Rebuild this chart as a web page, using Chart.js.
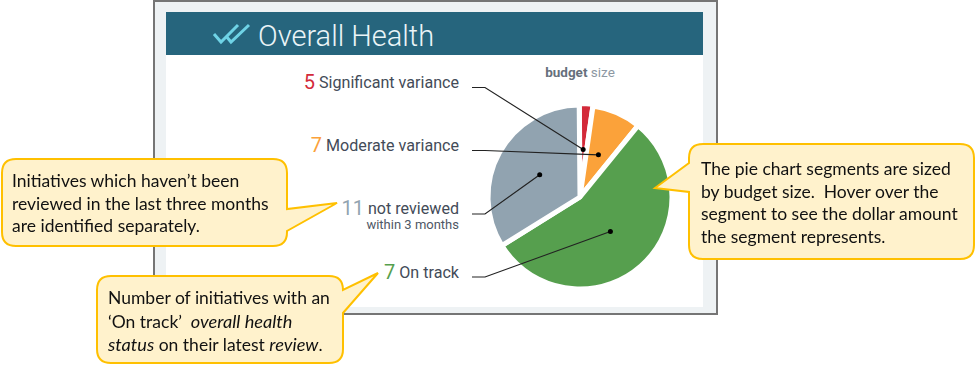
<!DOCTYPE html>
<html>
<head>
<meta charset="utf-8">
<title>Overall Health</title>
<script src="https://cdn.jsdelivr.net/npm/chart.js@4/dist/chart.umd.min.js"></script>
<style>
    html, body { margin: 0; padding: 0; background: #fff; width: 975px; height: 367px; overflow: hidden; }
    #frame { position: absolute; left: 153px; top: 0; width: 561px; height: 311px; border: 2px solid #757575; background: #eef2f4; }
    #panel { position: absolute; left: 166px; top: 55px; width: 537px; height: 252px; background: #fff; }
    #header { position: absolute; left: 166px; top: 12px; width: 537px; height: 43px; background: #26657d; }
    #title { position: absolute; left: 258px; top: 19px; font: 300 29px Roboto, sans-serif; color: #eaf4f7; white-space: nowrap; }
    #icon { position: absolute; left: 205px; top: 15px; }
    #pie-wrap { position: absolute; left: 465px; top: 80px; width: 230px; height: 234px; }
    #budget { position: absolute; left: 480px; width: 200px; top: 64px; text-align: center; font: 13.5px Roboto, sans-serif; color: #8d98a3; }
    #budget b { color: #66707c; }
    .row { position: absolute; right: 516px; height: 20px; white-space: nowrap; font: 16.1px Roboto, sans-serif; color: #434b58; line-height: 20px; }
    .row .num { font-size: 20px; margin-right: 4px; vertical-align: -1px; }
    .sub { position: absolute; right: 516px; top: 220px; font: 13px/10px Roboto, sans-serif; color: #4f5765; white-space: nowrap; }
    #bubbles { position: absolute; left: 0; top: 0; }
    .note { position: absolute; font: 17.5px/22.6px Lato, sans-serif; color: #111; white-space: nowrap; }
    .note i { font-size: 18.2px; }
</style>
</head>
<body>
<div id="frame"></div>
<div id="panel"></div>
<div id="header"></div>
<svg id="icon" width="60" height="40">
    <polyline points="9,19 16,27 33,10" fill="none" stroke="#6fd3e6" stroke-width="3"/>
    <polyline points="21,21 26,27 44,10" fill="none" stroke="#6fd3e6" stroke-width="3"/>
</svg>
<div id="title">Overall Health</div>
<div id="budget"><b>budget</b> size</div>
<div id="labels"></div>
<div class="sub">within 3 months</div>
<div id="pie-wrap"><canvas id="pie" width="230" height="234"></canvas></div>

<svg id="bubbles" width="975" height="367">
    <path d="M16,159 H273 Q287,159 287,173 V209 L337,203 L287,231 V232 Q287,246 273,246 H16 Q2,246 2,232 V173 Q2,159 16,159 Z" fill="#fff2cc" stroke="#ffc000" stroke-width="2"/>
    <path d="M111,276 H329 Q343,276 343,290 L378,273 L343,313 V349 Q343,363 329,363 H111 Q97,363 97,349 V290 Q97,276 111,276 Z" fill="#fff2cc" stroke="#ffc000" stroke-width="2"/>
    <path d="M703,144 H960 Q974,144 974,158 V245 Q974,259 960,259 H703 Q689,259 689,245 V192 L655,188 L689,163 V158 Q689,144 703,144 Z" fill="#fff2cc" stroke="#ffc000" stroke-width="2"/>
</svg>
<div class="note" style="left:12px;top:170px">Initiatives which haven’t been<br>reviewed in the last three months<br>are identified separately.</div>
<div class="note" style="left:108px;top:287px">Number of initiatives with an<br>‘On track’&nbsp; <i>overall health</i><br><i>status</i> on their latest <i>review</i>.</div>
<div class="note" style="left:701px;top:158px">The pie chart segments are sized<br>by budget size.&nbsp; Hover over the<br>segment to see the dollar amount<br>the segment represents.</div>

<script>
    // Du lieu doc tu hinh
    const categories = ['Significant variance', 'Moderate variance', 'On track', 'not reviewed'];
    const initiativeCounts = [5, 7, 7, 11];
    const budgetShares = [2.4, 8.6, 55.3, 33.7];
    const sliceColors = ['#d32a3a', '#fba23a', '#569f4e', '#91a3b0'];

    // Vi tri theo chieu doc cua tung nhan (trung voi duong dan)
    const rowTops = [72, 135, 262, 198];
    const leaderRows = [87.5, 150.5, 277, 214];

    document.addEventListener('DOMContentLoaded', function() {
        const labelBox = document.getElementById('labels');
        categories.forEach(function(name, i) {
            const row = document.createElement('div');
            row.className = 'row';
            row.style.top = rowTops[i] + 'px';

            const num = document.createElement('span');
            num.className = 'num';
            num.style.color = sliceColors[i];
            num.textContent = initiativeCounts[i];
            row.appendChild(num);
            row.appendChild(document.createTextNode(name));
            labelBox.appendChild(row);
        });

        createPie();
    });

    // Ve duong dan tu nhan den giua tung mieng
    const leaderLines = {
        id: 'leaderLines',
        afterDatasetsDraw(chart) {
            const ctx = chart.ctx;
            const arcs = chart.getDatasetMeta(0).data;
            const wrapTop = 80;
            ctx.save();
            ctx.strokeStyle = '#222';
            ctx.fillStyle = '#000';
            ctx.lineWidth = 1.2;
            arcs.forEach(function(arc, i) {
                const pos = arc.tooltipPosition();
                const y = leaderRows[i] - wrapTop;
                ctx.beginPath();
                ctx.moveTo(7, y);
                ctx.lineTo(20, y);
                ctx.lineTo(pos.x, pos.y);
                ctx.stroke();
                ctx.beginPath();
                ctx.arc(pos.x, pos.y, 2.5, 0, Math.PI * 2);
                ctx.fill();
            });
            ctx.restore();
        }
    };

    function createPie() {
        const ctx = document.getElementById('pie').getContext('2d');
        new Chart(ctx, {
            type: 'pie',
            data: {
                labels: categories,
                datasets: [{
                    data: budgetShares,
                    backgroundColor: sliceColors,
                    borderColor: '#fff',
                    borderWidth: 5,
                    offset: [3, 0, 0, 0]
                }]
            },
            options: {
                responsive: false,
                animation: false,
                rotation: -0.5,
                layout: { padding: { top: 21, bottom: 21 } },
                plugins: {
                    legend: { display: false }
                }
            },
            plugins: [leaderLines]
        });
    }
</script>
</body>
</html>
